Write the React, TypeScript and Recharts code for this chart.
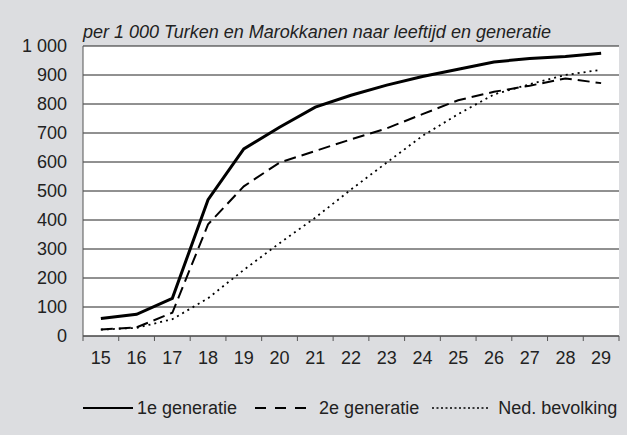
import React from "react";
import { LineChart, Line, XAxis, YAxis, CartesianGrid } from "recharts";

const ages = [15, 16, 17, 18, 19, 20, 21, 22, 23, 24, 25, 26, 27, 28, 29];
const gen1 = [60, 75, 130, 470, 645, 720, 789, 830, 865, 895, 920, 945, 957, 964, 975];
const gen2 = [22, 30, 80, 385, 516, 598, 638, 678, 716, 765, 813, 842, 863, 888, 872];
const ned = [22, 28, 58, 130, 228, 320, 408, 505, 598, 690, 765, 833, 868, 900, 918];
const yTicks = [0, 100, 200, 300, 400, 500, 600, 700, 800, 900, 1000];
const title = "per 1 000 Turken en Marokkanen naar leeftijd en generatie";

const seriesNames = ["1e generatie", "2e generatie", "Ned. bevolking"];

const data = ages.map((a, i) => ({ age: a, gen1: gen1[i], gen2: gen2[i], ned: ned[i] }));

const FONT = "'Liberation Sans', Arial, Helvetica, sans-serif";
const TEXT = "#222";
const BG = "#dcdde0";
const FS = 18;

const styles = [
  { key: "gen1", width: 3, dash: undefined as string | undefined, legendDash: undefined as string | undefined, legendW: 2, sampleW: 50, gapAfter: 4, textGap: 18 },
  { key: "gen2", width: 2, dash: "12 6", legendDash: "11 9", legendW: 2, sampleW: 52, gapAfter: 12, textGap: 13 },
  { key: "ned", width: 1.8, dash: "2 4", legendDash: "2 2.5", legendW: 1.4, sampleW: 57, gapAfter: 9, textGap: 0 },
];

const PLOT_W = 536;
const HALF = PLOT_W / ages.length / 2;

const XTick = (props: any) => {
  const { x, y, payload, index, visibleTicksCount } = props;
  const axisY = y - 15;
  const isLast = index === visibleTicksCount - 1;
  return (
    <g>
      <line x1={x - HALF} x2={x - HALF} y1={axisY} y2={axisY + 5} stroke="#555" strokeWidth={1} />
      {isLast && <line x1={x + HALF} x2={x + HALF} y1={axisY} y2={axisY + 5} stroke="#555" strokeWidth={1} />}
      <text x={x} y={y} dy="0.71em" textAnchor="middle" fill={TEXT} fontSize={FS} fontFamily={FONT}>
        {payload.value}
      </text>
    </g>
  );
};

const fmtY = (v: number) => (v >= 1000 ? `${Math.floor(v / 1000)} ${String(v % 1000).padStart(3, "0")}` : String(v));

export default function App() {
  return (
    <div style={{ position: "absolute", left: 0, top: 0, width: 627, height: 435, background: BG, fontFamily: FONT, color: TEXT }}>
      <div style={{ position: "absolute", left: 83, top: 22, fontSize: FS, fontStyle: "italic", whiteSpace: "nowrap", lineHeight: "20px" }}>
        {title}
      </div>
      <div style={{ position: "absolute", left: 0, top: 0 }}>
        <LineChart width={627} height={370} data={data} margin={{ top: 46, right: 8, left: 0, bottom: 0 }}>
          <CartesianGrid vertical={false} horizontal={true} stroke="#222" strokeWidth={1} fill="#ffffff" fillOpacity={1} />
          <XAxis
            dataKey="age"
            type="number"
            domain={[14.5, 29.5]}
            ticks={ages}
            interval={0}
            height={34}
            tickSize={6}
            tickMargin={9}
            tickLine={false}
            axisLine={{ stroke: "#555", strokeWidth: 1 }}
            tick={<XTick />}
            allowDataOverflow
          />
          <XAxis
            xAxisId="top"
            orientation="top"
            type="number"
            domain={[14.5, 29.5]}
            height={0}
            tick={false}
            tickLine={false}
            axisLine={{ stroke: "#555", strokeWidth: 1 }}
            allowDataOverflow
          />
          <YAxis
            domain={[0, 1000]}
            ticks={yTicks}
            interval={0}
            width={83}
            tickLine={false}
            tickMargin={10}
            tickFormatter={fmtY}
            axisLine={{ stroke: "#555", strokeWidth: 1 }}
            tick={{ fill: TEXT, fontSize: FS, fontFamily: FONT }}
          />
          <YAxis
            yAxisId="right"
            orientation="right"
            domain={[0, 1000]}
            width={0}
            tick={false}
            tickLine={false}
            axisLine={{ stroke: "#444", strokeWidth: 1.5 }}
          />
          {styles.map((s) => (
            <Line
              key={s.key}
              dataKey={s.key}
              type="linear"
              stroke="#000"
              strokeWidth={s.width}
              strokeDasharray={s.dash}
              dot={false}
              activeDot={false}
              isAnimationActive={false}
            />
          ))}
        </LineChart>
      </div>
      <div style={{ position: "absolute", left: 83, top: 397, display: "flex", alignItems: "center", fontSize: FS, whiteSpace: "nowrap", lineHeight: "22px" }}>
        {styles.map((s, i) => (
          <React.Fragment key={s.key}>
            <svg width={s.sampleW} height={10} style={{ marginRight: s.gapAfter, display: "block" }}>
              <line x1={0} x2={s.sampleW} y1={5} y2={5} stroke="#000" strokeWidth={s.legendW} strokeDasharray={s.legendDash} />
            </svg>
            <span style={{ marginRight: s.textGap }}>{seriesNames[i]}</span>
          </React.Fragment>
        ))}
      </div>
    </div>
  );
}
